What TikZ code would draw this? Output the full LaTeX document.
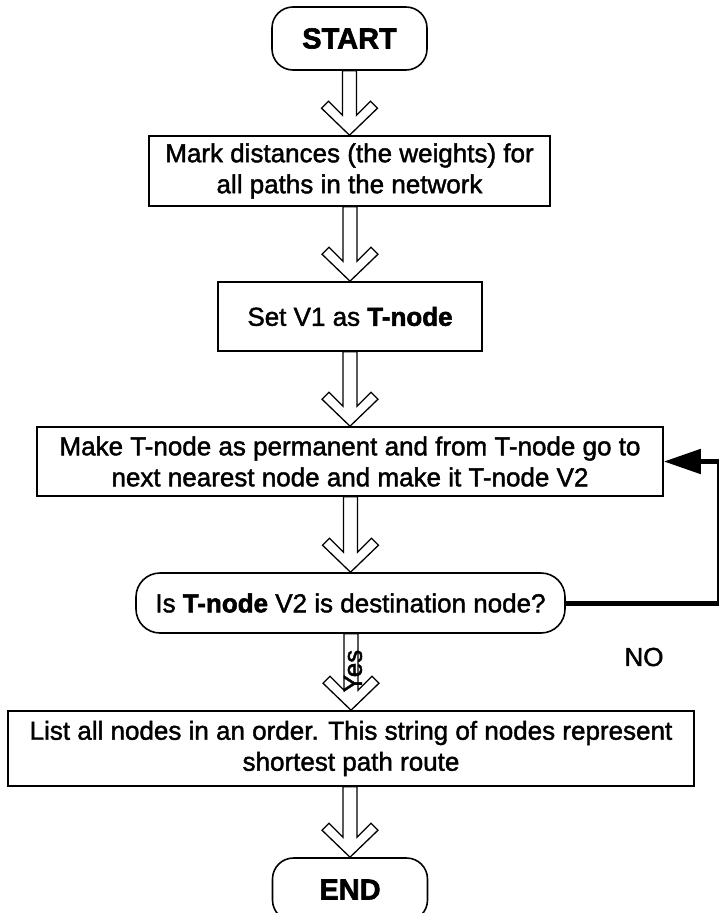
\documentclass[tikz,border=0pt]{standalone}
\usepackage{fontspec}
\setmainfont{Liberation Sans}[
  UprightFeatures={FakeBold=1.6},
  BoldFeatures={FakeBold=2.0}]
\usetikzlibrary{calc,arrows.meta}

\newcommand{\bodyfont}{\fontsize{26pt}{31pt}\selectfont}
\newcommand{\termfont}{\fontsize{29pt}{34pt}\selectfont\bfseries}

% hollow block arrow from the bottom of one node to the top of the next
\newcommand{\flowarrow}[2]{%
  \draw[blockarrow] let \p1=(#1.south), \p2=(#2.north) in
    (\x2-7pt,\y1) -- (\x2-7pt,\y2+20pt) -- (\x2-21pt,\y2+34pt) --
    (\x2-28pt,\y2+27pt) -- (\x2,\y2) -- (\x2+28pt,\y2+27pt) --
    (\x2+21pt,\y2+34pt) -- (\x2+7pt,\y2+20pt) -- (\x2+7pt,\y1) -- cycle;}

\tikzset{
  box/.style={draw, line width=1.6pt, fill=white, align=center,
    inner sep=0pt, font=\bodyfont},
  terminal/.style={box, rounded corners=21pt, minimum width=155pt,
    minimum height=63pt, font=\termfont},
  blockarrow/.style={draw, fill=white, line width=1.3pt, line join=miter},
  loopline/.style={line width=5pt, line join=miter,
    -{Triangle[length=37pt,width=24pt]}},
  label/.style={font=\bodyfont, inner sep=0pt}
}

\begin{document}
\begin{tikzpicture}[x=1pt,y=-1pt]
\useasboundingbox (0,0) rectangle (718,913);

\node[terminal] (start) at (349.5,38.5) {START};
\node[box, minimum width=401pt, minimum height=70pt] (mark) at (349.5,171)
  {Mark distances (the weights) for\\all paths in the network};
\node[box, minimum width=264pt, minimum height=69pt] (setv) at (350,316.5)
  {Set V1 as \textbf{T-node}};
\node[box, minimum width=626pt, minimum height=69pt] (perm) at (350,461.5)
  {Make T-node as permanent and from T-node go to\\next nearest node and make it T-node V2};
\node[box, rounded corners=24pt, minimum width=429pt, minimum height=60pt] (dec) at (350.5,603)
  {Is \textbf{T-node} V2 is destination node?};
\node[box, minimum width=686pt, minimum height=75pt] (list) at (351,748.5)
  {List all nodes in an order. This string of nodes represent\\shortest path route};
\node[terminal] (end) at (350,889.5) {END};

\flowarrow{start}{mark}
\flowarrow{mark}{setv}
\flowarrow{setv}{perm}
\flowarrow{perm}{dec}
\flowarrow{dec}{list}
\flowarrow{list}{end}

\node[label, rotate=90] (yes) at (353,671) {Yes};
\node[label] (no) at (644,657) {NO};

% loop back when the destination is not reached
\coordinate (rt) at (719.5,0);
\draw[loopline] (dec.east) -- (dec.east -| rt) -- (perm.east -| rt) -- (perm.east);
\end{tikzpicture}
\end{document}
